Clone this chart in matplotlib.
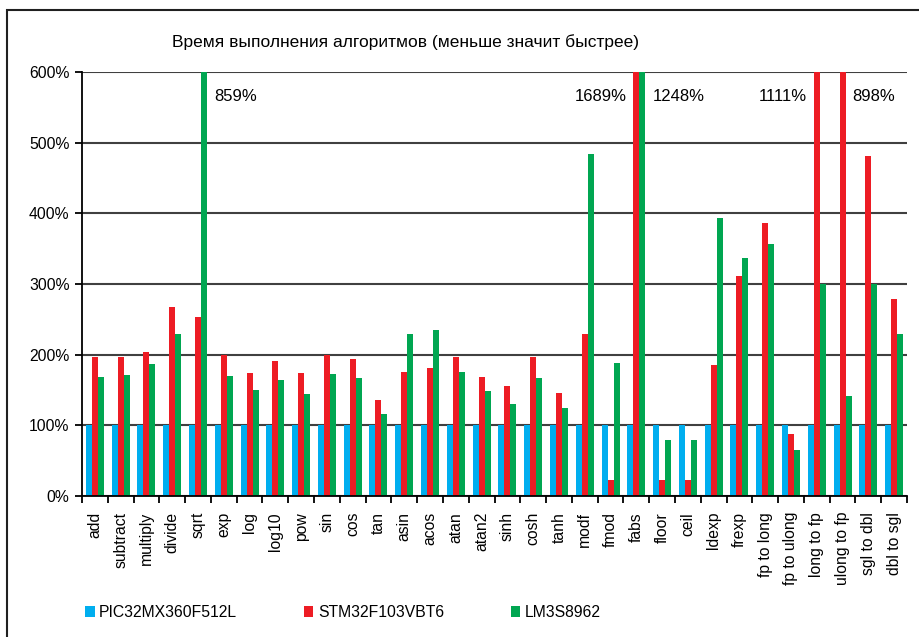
import matplotlib.pyplot as plt
import numpy as np
from matplotlib.patches import Rectangle
from matplotlib.ticker import FuncFormatter

plt.rcParams["font.family"] = ["Liberation Sans", "DejaVu Sans"]

# execution time, percent of PIC32 time
categories = [
    "add", "subtract", "multiply", "divide", "sqrt", "exp", "log", "log10",
    "pow", "sin", "cos", "tan", "asin", "acos", "atan", "atan2", "sinh",
    "cosh", "tanh", "modf", "fmod", "fabs", "floor", "ceil", "ldexp",
    "frexp", "fp to long", "fp to ulong", "long to fp", "ulong to fp",
    "sgl to dbl", "dbl to sgl",
]
pic32 = [100] * 32
stm32 = [196, 197, 204, 267, 253, 199, 174, 191, 174, 199, 194, 136, 175,
         181, 197, 168, 155, 197, 146, 229, 22, 1689, 22, 22, 185, 311, 386,
         88, 1111, 898, 481, 279]
lm3s = [168, 171, 187, 229, 859, 170, 150, 164, 144, 172, 167, 116, 229,
        235, 175, 149, 130, 167, 124, 484, 188, 1248, 79, 79, 393, 337, 357,
        65, 300, 141, 300, 229]
series_names = ["PIC32MX360F512L", "STM32F103VBT6", "LM3S8962"]
colors = ["#00AEEF", "#ED1C24", "#00A651"]

# values that go off the top of the chart get a label
# (category, series index, side of bar)
overflow = [("sqrt", 2, "right"), ("fabs", 1, "left"), ("fabs", 2, "right"),
            ("long to fp", 1, "left"), ("ulong to fp", 1, "right")]

fig = plt.figure(figsize=(9.19, 6.37), dpi=100)
ax = fig.add_axes([82 / 919, 141 / 637, 825 / 919, 424 / 637])

x = np.arange(len(categories))
w = 0.233
all_series = [pic32, stm32, lm3s]
for k, vals in enumerate(all_series):
    ax.bar(x + (k - 1) * w, vals, w, color=colors[k], label=series_names[k],
           zorder=2)

ax.set_xlim(-0.5, len(categories) - 0.5)
ax.set_ylim(0, 600)
ax.set_yticks(range(0, 601, 100))
ax.yaxis.set_major_formatter(FuncFormatter(lambda v, p: f"{v:.0f}%"))
ax.yaxis.grid(True, color="#404040", lw=1.5, zorder=1)
ax.set_axisbelow(True)

ax.set_xticks(x)
ax.set_xticklabels(categories, rotation=90, fontsize=11.3)
ax.set_xticks(np.arange(-0.5, len(categories) + 0.5, 1), minor=True)
ax.tick_params(axis="x", which="major", length=0, pad=11.5)
ax.tick_params(axis="x", which="minor", length=5, width=1.3, color="black")
ax.tick_params(axis="y", length=5, width=1.3, labelsize=11.3, pad=4)

for s in ["top", "right"]:
    ax.spines[s].set_visible(False)
ax.spines["left"].set_linewidth(1.3)
ax.spines["bottom"].set_linewidth(1.3)

for cat, k, side in overflow:
    i = categories.index(cat)
    val = all_series[k][i]
    xc = i + (k - 1) * w
    if side == "right":
        ax.annotate(f"{val}%", xy=(xc + w / 2, 565), xytext=(5, 0),
                    textcoords="offset points", ha="left", va="center",
                    fontsize=12)
    else:
        ax.annotate(f"{val}%", xy=(xc - w / 2, 565), xytext=(-5, 0),
                    textcoords="offset points", ha="right", va="center",
                    fontsize=12)

fig.text(406 / 919, 1 - 42 / 637,
         "Время выполнения алгоритмов (меньше значит быстрее)",
         ha="center", va="center", fontsize=12.5)

fig.legend(loc="lower left", bbox_to_anchor=(71 / 919, 3 / 637), ncol=3,
           frameon=False, fontsize=11.3, handlelength=0.6, handleheight=0.7,
           handletextpad=0.3, columnspacing=4.25)

# outer chart frame, only the left and top edges are in view
fig.patches.append(Rectangle((7 / 919, -0.2), 1.2, 1.2 - 10 / 637,
                             transform=fig.transFigure, fill=False,
                             edgecolor="#202020", lw=1.5))

fig.savefig("out.png", dpi=100)
